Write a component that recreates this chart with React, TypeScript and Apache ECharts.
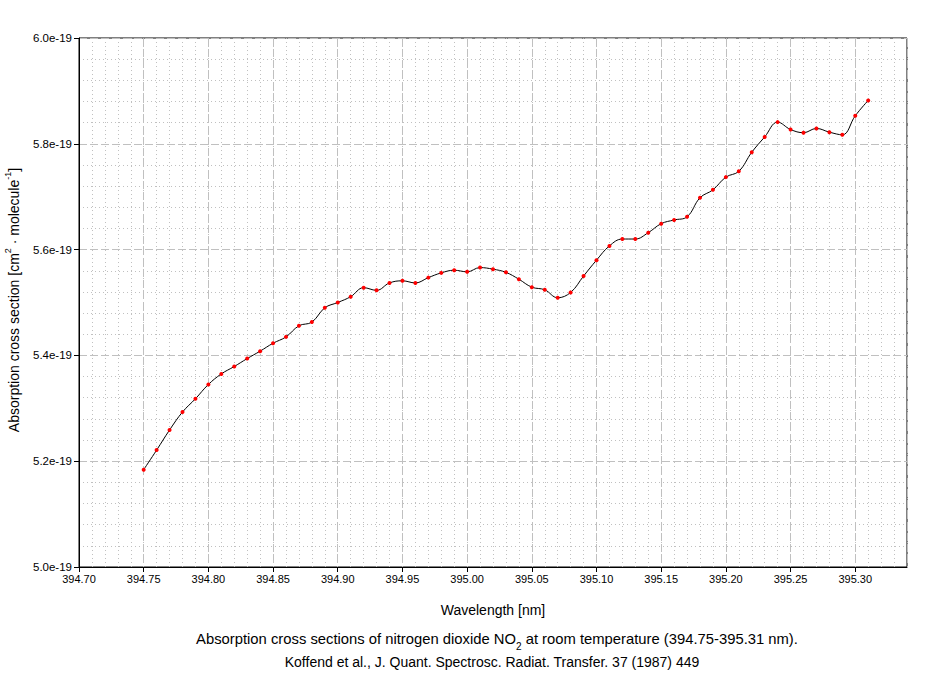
import React, { useEffect, useRef } from "react";
import * as echarts from "echarts";

// Wavelength [nm]
const wavelengths: number[] = [
  394.75, 394.76, 394.77, 394.78, 394.79, 394.8, 394.81, 394.82, 394.83, 394.84,
  394.85, 394.86, 394.87, 394.88, 394.89, 394.9, 394.91, 394.92, 394.93, 394.94,
  394.95, 394.96, 394.97, 394.98, 394.99, 395.0, 395.01, 395.02, 395.03, 395.04,
  395.05, 395.06, 395.07, 395.08, 395.09, 395.1, 395.11, 395.12, 395.13, 395.14,
  395.15, 395.16, 395.17, 395.18, 395.19, 395.2, 395.21, 395.22, 395.23, 395.24,
  395.25, 395.26, 395.27, 395.28, 395.29, 395.3, 395.31,
];

// Absorption cross section, in units of 1e-19 cm^2 molecule^-1
const crossSections: number[] = [
  5.184, 5.221, 5.259, 5.293, 5.318, 5.345, 5.365, 5.379, 5.394, 5.408,
  5.423, 5.435, 5.456, 5.463, 5.49, 5.5, 5.511, 5.528, 5.523, 5.537,
  5.541, 5.537, 5.547, 5.556, 5.561, 5.558, 5.566, 5.563, 5.557, 5.544,
  5.529, 5.524, 5.509, 5.519, 5.55, 5.58, 5.607, 5.62, 5.62, 5.632,
  5.649, 5.656, 5.662, 5.698, 5.713, 5.737, 5.748, 5.784, 5.813, 5.841,
  5.827, 5.821, 5.829, 5.822, 5.817, 5.853, 5.882,
];

const xMin = 394.7;
const xMax = 395.34;
const xMajor = 0.05;
const xMinor = 0.01;
const yMin = 5.0;
const yMax = 6.0;
const yMajor = 0.2;
const yExponent = "e-19";

const xAxisTitle = "Wavelength [nm]";
const captionLine1 = [
  "Absorption cross sections of nitrogen dioxide NO",
  "2",
  " at room temperature (394.75-395.31 nm).",
];
const captionLine2 = "Koffend et al., J. Quant. Spectrosc. Radiat. Transfer. 37 (1987) 449";

const FONT = "'Liberation Sans', Arial, sans-serif";
const GRID_COLOR = "#c0c0c0";

export default function App() {
  const ref = useRef<HTMLDivElement>(null);

  useEffect(() => {
    if (!ref.current) return;
    const chart = echarts.init(ref.current, null, { renderer: "svg" });
    const data = wavelengths.map((w, i) => [w, crossSections[i]]);

    chart.setOption({
      animation: false,
      backgroundColor: "#ffffff",
      textStyle: { fontFamily: FONT },
      grid: {
        left: 79,
        top: 38,
        right: 37,
        bottom: 106,
        show: true,
        borderColor: "#000",
        borderWidth: 1,
        backgroundColor: "transparent",
      },
      xAxis: [
        {
          type: "value",
          min: xMin,
          max: xMax,
          interval: xMinor,
          position: "bottom",
          axisLine: { show: false },
          axisTick: { show: false },
          axisLabel: { show: false },
          splitLine: {
            show: true,
            lineStyle: { color: GRID_COLOR, width: 1, type: [1, 3] },
          },
        },
        {
          type: "value",
          min: xMin,
          max: xMax,
          interval: xMajor,
          position: "bottom",
          axisLine: { show: true, onZero: false, lineStyle: { color: "#000", width: 1 } },
          axisTick: { show: true, inside: false, length: 5, lineStyle: { color: "#000" } },
          axisLabel: {
            show: true,
            color: "#000",
            fontSize: 11,
            fontFamily: FONT,
            margin: 6,
            showMaxLabel: false,
            formatter: (v: number) => v.toFixed(2),
          },
          splitLine: {
            show: true,
            lineStyle: { color: GRID_COLOR, width: 1, type: [8, 3] },
          },
          name: xAxisTitle,
          nameLocation: "middle",
          nameGap: 36,
          nameTextStyle: { color: "#000", fontSize: 14, fontFamily: FONT },
        },
      ],
      yAxis: {
        type: "value",
        min: yMin,
        max: yMax,
        interval: yMajor,
        axisLine: { show: true, onZero: false, lineStyle: { color: "#000", width: 1 } },
        axisTick: { show: true, inside: false, length: 5, lineStyle: { color: "#000" } },
        axisLabel: {
          color: "#000",
          fontSize: 11.5,
          fontFamily: FONT,
          margin: 7,
          formatter: (v: number) => v.toFixed(1) + yExponent,
        },
        splitLine: {
          show: true,
          lineStyle: { color: GRID_COLOR, width: 1, type: [8, 3] },
        },
        minorTick: { show: false, splitNumber: 5 },
        minorSplitLine: {
          show: true,
          lineStyle: { color: GRID_COLOR, width: 1, type: [1, 3] },
        },
      },
      series: [
        {
          type: "line",
          xAxisIndex: 1,
          data,
          smooth: 0.4,
          symbol: "circle",
          symbolSize: 4,
          showAllSymbol: true,
          lineStyle: { color: "#000", width: 1 },
          itemStyle: { color: "#ff0000", borderWidth: 0 },
          z: 5,
        },
      ],
      graphic: [
        {
          type: "text",
          x: 12,
          y: 300,
          rotation: Math.PI / 2,
          style: {
            text:
              "{a|Absorption cross section [cm}{s|2}{a| · molecule}{s|-1}{a|]}",
            align: "center",
            verticalAlign: "middle",
            fill: "#000",
            rich: {
              a: { fontSize: 14, fontFamily: FONT, fill: "#000", lineHeight: 18, verticalAlign: "bottom" },
              s: { fontSize: 9, fontFamily: FONT, fill: "#000", lineHeight: 18, verticalAlign: "top" },
            },
          },
        },
        {
          type: "text",
          x: 497,
          y: 641,
          style: {
            text: `{a|${captionLine1[0]}}{b|${captionLine1[1]}}{a|${captionLine1[2]}}`,
            align: "center",
            verticalAlign: "middle",
            fill: "#000",
            rich: {
              a: { fontSize: 14.8, fontFamily: FONT, fill: "#000", lineHeight: 20, verticalAlign: "top" },
              b: { fontSize: 10, fontFamily: FONT, fill: "#000", lineHeight: 20, verticalAlign: "bottom" },
            },
          },
        },
        {
          type: "text",
          x: 492,
          y: 662,
          style: {
            text: captionLine2,
            align: "center",
            verticalAlign: "middle",
            fill: "#000",
            fontSize: 14,
            fontFamily: FONT,
          },
        },
      ],
    });

    return () => chart.dispose();
  }, []);

  return (
    <div
      ref={ref}
      style={{ position: "fixed", left: 0, top: 0, width: 944, height: 673, background: "#fff" }}
    />
  );
}
